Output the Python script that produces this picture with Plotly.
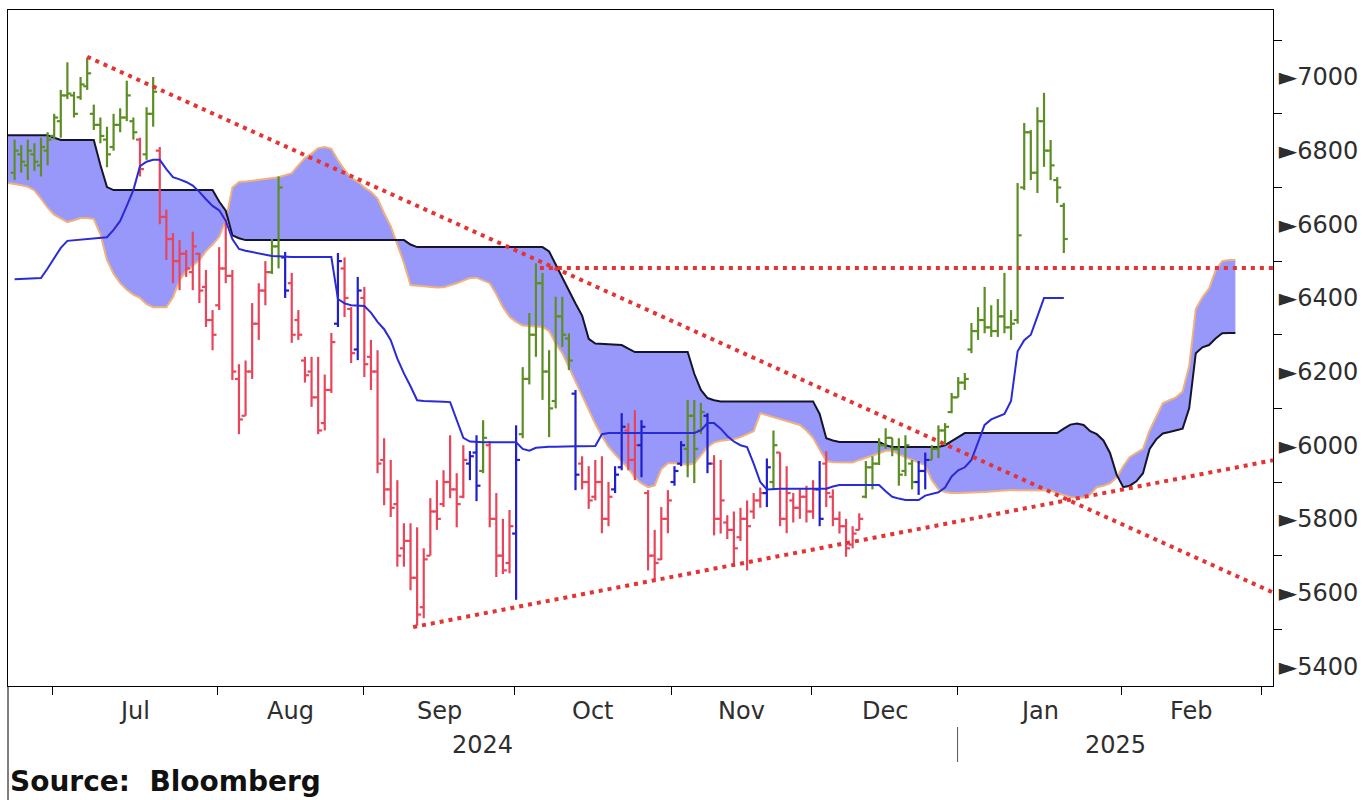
import plotly.graph_objects as go

# ---------------- data ----------------
# trading-day sequence number of each price bar
bar_index = list(range(1, 161))

opens = [6740, 6790, 6760, 6790, 6760, 6800, 6840, 6880, 6950, 6950,
         6945, 6975, 6900, 6870, 6830, 6810, 6870, 6890, 6880, 6830,
         6790, 6900, 6800, 6620, 6560, 6500, 6520, 6470, 6520, 6430,
         6340, 6380, 6480, 6460, 6180, 6080, 6200, 6330, 6420, 6470,
         6540, 6510, 6440, 6340, 6230, 6200, 6130, 6060, 6150, 6330,
         6480, 6370, 6260, 6400, 6240, 6200, 5960, 5880, 5840, 5720,
         5740, 5640, 5560, 5700, 5820, 5840, 5900, 5880, 5860, 5950,
         5980, 5930, 6000, 5800, 5700, 5680, 5760, 6030, 6180, 6300,
         6440, 6200, 6120, 6350, 6290, 6140, 5950, 5900, 5860, 5900,
         5800, 5880, 5940, 6040, 5960, 6000, 5870, 5700, 5690, 5800,
         5900, 5950, 5990, 6080, 6040, 6080, 5950, 5800, 5790, 5770,
         5750, 5800, 5820, 5850, 5870, 5900, 5980, 5800, 5850, 5830,
         5860, 5820, 5880, 5950, 5860, 5800, 5780, 5730, 5770, 5860,
         5940, 5950, 6000, 6020, 5990, 5930, 5950, 5900, 5930, 5960,
         5990, 6040, 6090, 6130, 6170, 6260, 6310, 6340, 6320, 6310,
         6350, 6320, 6340, 6700, 6850, 6740, 6880, 6800, 6720, 6650]

highs = [6830, 6815, 6830, 6820, 6835, 6850, 6900, 6965, 7040, 6960,
         7000, 7052, 6925, 6890, 6865, 6900, 6915, 6990, 6890, 6835,
         6918, 7000, 6810, 6640, 6576, 6557, 6530, 6580, 6522, 6476,
         6367, 6538, 6612, 6476, 6220, 6230, 6386, 6440, 6500, 6560,
         6730, 6525, 6468, 6367, 6240, 6240, 6240, 6192, 6305, 6522,
         6510, 6375, 6457, 6430, 6286, 6258, 6019, 5960, 5905, 5788,
         5788, 5777, 5720, 5856, 5905, 5932, 6027, 5924, 6000, 5984,
         6027, 6068, 6011, 5870, 5800, 5824, 6054, 6212, 6359, 6494,
         6468, 6258, 6403, 6403, 6304, 6150, 5970, 5943, 5960, 5970,
         5900, 5943, 6087, 6060, 6095, 6068, 5878, 5770, 5832, 5878,
         5943, 6011, 6123, 6123, 6115, 6087, 5973, 5960, 5810, 5820,
         5830, 5850, 5870, 5885, 5964, 6040, 5980, 5943, 5870, 5880,
         5890, 5905, 5957, 5984, 5880, 5820, 5800, 5780, 5815, 5957,
         5970, 6019, 6046, 6020, 6019, 6027, 5960, 5957, 5980, 6000,
         6054, 6060, 6142, 6185, 6196, 6332, 6375, 6430, 6380, 6397,
         6468, 6367, 6712, 6875, 6856, 6918, 6957, 6829, 6728, 6658]

lows = [6720, 6740, 6720, 6745, 6730, 6760, 6830, 6835, 6940, 6890,
        6938, 6965, 6856, 6820, 6755, 6800, 6850, 6880, 6830, 6730,
        6775, 6865, 6600, 6503, 6440, 6421, 6457, 6421, 6386, 6321,
        6258, 6367, 6440, 6177, 6030, 6080, 6180, 6286, 6380, 6465,
        6480, 6400, 6278, 6286, 6170, 6104, 6030, 6040, 6142, 6321,
        6348, 6223, 6231, 6185, 6150, 5924, 5837, 5805, 5670, 5670,
        5606, 5510, 5530, 5700, 5770, 5832, 5856, 5777, 5856, 5905,
        5848, 5924, 5777, 5642, 5650, 5652, 5580, 6019, 6165, 6240,
        6123, 6022, 6100, 6267, 6204, 5878, 5880, 5827, 5850, 5761,
        5780, 5870, 5932, 5932, 5905, 5913, 5660, 5633, 5688, 5761,
        5890, 5943, 5913, 5897, 6030, 5924, 5755, 5760, 5745, 5670,
        5740, 5660, 5800, 5830, 5832, 5878, 5780, 5761, 5790, 5800,
        5790, 5800, 5780, 5832, 5780, 5760, 5697, 5720, 5770, 5856,
        5880, 5946, 5990, 5970, 5890, 5916, 5880, 5865, 5880, 5960,
        5965, 6000, 6087, 6130, 6150, 6250, 6286, 6304, 6294, 6294,
        6304, 6286, 6330, 6693, 6720, 6685, 6756, 6720, 6658, 6522]

closes = [6800, 6770, 6800, 6770, 6810, 6830, 6890, 6950, 6955, 6900,
          6980, 7010, 6870, 6840, 6790, 6870, 6890, 6950, 6850, 6750,
          6900, 6960, 6620, 6560, 6500, 6520, 6480, 6540, 6420, 6340,
          6300, 6480, 6460, 6200, 6070, 6200, 6330, 6420, 6470, 6540,
          6700, 6420, 6300, 6300, 6190, 6130, 6040, 6150, 6280, 6500,
          6400, 6250, 6420, 6220, 6200, 5950, 5880, 5830, 5700, 5740,
          5640, 5540, 5690, 5820, 5800, 5900, 5880, 5840, 5960, 5970,
          5890, 6020, 5800, 5700, 5660, 5780, 5960, 6180, 6300, 6440,
          6200, 6100, 6350, 6300, 6230, 5920, 5900, 5850, 5900, 5800,
          5860, 5920, 6050, 5960, 6000, 6050, 5700, 5680, 5800, 5850,
          5930, 6000, 6080, 5990, 6090, 5950, 5800, 5850, 5770, 5720,
          5800, 5780, 5850, 5870, 5940, 6000, 5800, 5870, 5830, 5860,
          5820, 5880, 5800, 5870, 5800, 5780, 5720, 5760, 5800, 5940,
          5950, 6000, 6020, 5990, 5920, 6000, 5900, 5930, 5960, 5990,
          6040, 6050, 6130, 6170, 6180, 6310, 6340, 6320, 6310, 6350,
          6320, 6330, 6570, 6850, 6740, 6880, 6800, 6760, 6700, 6560]

# bar state: g = above cloud, r = below, b = neutral
bar_state = list(
    "ggggggggggggggggggg" "r" "gg" "rrrrrrrrrrrrrrrrr" "gg" "b" "rrrrrrr" "b"
    "rr" "b" "rrrrrrrrrrrrrrrr" "bb" "g" "rrrr" "b" "gggggggg" "b" "rrrrr"
    "bb" "rr" "b" "rrrr" "bb" "ggg" "b" "rrrrrrrr" "b" "g" "rrrrrr" "b"
    "rrrrrr" "gggggggg" "bb" "ggggggggggggggggggggg"
)

kijun = [6451, 6452, 6452, 6453, 6454, 6480, 6508, 6536, 6555, 6557,
         6558, 6560, 6561, 6563, 6565, 6585, 6609, 6650, 6693, 6758,
         6770, 6775, 6775, 6750, 6728, 6722, 6715, 6705, 6688, 6668,
         6650, 6638, 6610, 6560, 6533, 6528, 6524, 6520, 6516, 6514,
         6513, 6511, 6511, 6511, 6511, 6511, 6511, 6511, 6511, 6397,
         6385, 6380, 6378, 6378, 6360, 6335, 6315, 6285, 6235, 6195,
         6160, 6122, 6120, 6120, 6119, 6118, 6117, 6070, 6020, 6010,
         6008, 6008, 6008, 6008, 6008, 6008, 6008, 5990, 5985, 5993,
         5995, 5996, 5996, 5997, 5997, 5997, 5997, 5997, 5998, 6030,
         6033, 6033, 6033, 6033, 6033, 6033, 6033, 6033, 6033, 6033,
         6033, 6033, 6033, 6033, 6040, 6060, 6060, 6045, 6025, 6010,
         6000, 5995, 5950, 5900, 5880, 5882, 5882, 5882, 5882, 5882,
         5882, 5882, 5882, 5882, 5888, 5892, 5892, 5892, 5892, 5892,
         5892, 5892, 5875, 5860, 5855, 5851, 5851, 5851, 5863, 5868,
         5872, 5885, 5915, 5932, 5940, 5960, 6010, 6055, 6070, 6078,
         6085, 6120, 6255, 6285, 6300, 6350, 6400, 6400, 6400, 6400]

# cloud spans, projected 26 sessions beyond the last bar
cloud_index = list(range(0, 187))
span_black = [6842, 6842, 6842, 6842, 6842, 6842, 6842, 6835, 6829, 6829,
              6829, 6829, 6829, 6829, 6761, 6701, 6693, 6693, 6693, 6693,
              6693, 6693, 6693, 6693, 6693, 6693, 6693, 6693, 6693, 6693,
              6693, 6693, 6662, 6637, 6570, 6562, 6557, 6557, 6557, 6557,
              6557, 6557, 6557, 6557, 6557, 6557, 6557, 6557, 6557, 6557,
              6557, 6557, 6557, 6557, 6557, 6557, 6557, 6557, 6557, 6557,
              6557, 6545, 6538, 6538, 6538, 6538, 6538, 6538, 6538, 6538,
              6538, 6538, 6538, 6538, 6538, 6538, 6538, 6538, 6538, 6538,
              6538, 6538, 6526, 6490, 6455, 6418, 6385, 6352, 6289, 6276,
              6275, 6274, 6273, 6272, 6262, 6253, 6253, 6253, 6253, 6253,
              6253, 6253, 6253, 6253, 6194, 6150, 6128, 6122, 6119, 6119,
              6119, 6119, 6119, 6119, 6119, 6119, 6119, 6119, 6119, 6119,
              6119, 6119, 6119, 6085, 6019, 6013, 6009, 6009, 6009, 6009,
              6009, 6009, 6009, 6000, 5995, 5995, 5995, 5995, 5995, 5995,
              5995, 5995, 6000, 6010, 6022, 6033, 6033, 6033, 6033, 6033,
              6033, 6033, 6033, 6033, 6033, 6033, 6033, 6033, 6033, 6033,
              6045, 6056, 6059, 6055, 6038, 6030, 6013, 5979, 5920, 5886,
              5890, 5902, 5924, 5990, 6016, 6032, 6036, 6040, 6045, 6100,
              6250, 6266, 6272, 6290, 6304, 6305, 6305]

span_orange = [6712, 6710, 6706, 6702, 6692, 6670, 6645, 6626, 6615, 6606,
               6611, 6617, 6617, 6614, 6573, 6503, 6466, 6440, 6422, 6409,
               6400, 6383, 6375, 6375, 6375, 6402, 6448, 6473, 6487, 6502,
               6527, 6545, 6566, 6610, 6700, 6715, 6716, 6718, 6720, 6723,
               6726, 6728, 6733, 6739, 6760, 6780, 6792, 6807, 6810, 6805,
               6774, 6748, 6726, 6716, 6700, 6688, 6670, 6630, 6595, 6544,
               6495, 6435, 6433, 6431, 6429, 6428, 6429, 6434, 6440, 6447,
               6454, 6455, 6447, 6440, 6410, 6375, 6349, 6335, 6325, 6323,
               6322, 6321, 6310, 6276, 6250, 6212, 6175, 6133, 6095, 6058,
               6025, 5996, 5975, 5957, 5937, 5912, 5896, 5886, 5890, 5935,
               5951, 5951, 5949, 5947, 5950, 5972, 5995, 6007, 6012, 6014,
               6016, 6022, 6030, 6038, 6087, 6082, 6077, 6072, 6066, 6062,
               6055, 6040, 6020, 5988, 5957, 5954, 5953, 5952, 5953, 5960,
               5966, 5970, 5978, 5985, 5985, 5975, 5968, 5960, 5953, 5945,
               5905, 5880, 5873, 5870, 5870, 5870, 5871, 5872, 5873, 5875,
               5876, 5877, 5878, 5878, 5878, 5878, 5878, 5878, 5877, 5870,
               5864, 5859, 5857, 5858, 5866, 5886, 5890, 5896, 5912, 5943,
               5968, 5980, 5990, 6040, 6077, 6114, 6122, 6130, 6146, 6215,
               6370, 6402, 6425, 6475, 6500, 6503, 6503]

# hand-drawn trend lines (session number, level)
trend_down_x, trend_down_y = [12, 191.7], [7055, 5600]
trend_up_x, trend_up_y = [61.4, 191.7], [5506, 5959]
resist_x, resist_y = [80.6, 191.7], [6481, 6481]

# axes
month_starts = [6.7, 31.7, 53.9, 76.8, 100.6, 121.8, 143.9, 168.8, 190.0]
month_names = ["Jul", "Aug", "Sep", "Oct", "Nov", "Dec", "Jan", "Feb"]
year_names = ["2024", "2025"]
y_ticks = [5400, 5600, 5800, 6000, 6200, 6400, 6600, 6800, 7000]
y_minor = [5500, 5700, 5900, 6100, 6300, 6500, 6700, 6900, 7100]
X_MAX = 191.7
Y_RANGE = [5346, 7182]

# ---------------- styling ----------------
CLOUD = "#9898fa"
BLACK_LINE = "#14142a"
ORANGE_LINE = "#f0b27c"
KIJUN = "#2a2ad6"
STATE_COLORS = {"g": "#5c8e24", "r": "#e8455a", "b": "#1f1fcc"}
DOT_RED = "#e53232"
FONT = "DejaVu Sans"
TXT = "#2e2e2e"

fig = go.Figure()

# cloud fill
fig.add_trace(go.Scatter(x=cloud_index, y=span_black, mode="lines",
                         line=dict(width=0, color=BLACK_LINE), hoverinfo="skip"))
fig.add_trace(go.Scatter(x=cloud_index, y=span_orange, mode="lines",
                         line=dict(width=0, color=ORANGE_LINE), fill="tonexty",
                         fillcolor=CLOUD, hoverinfo="skip"))
# cloud edges
fig.add_trace(go.Scatter(x=cloud_index, y=span_orange, mode="lines",
                         line=dict(width=2, color=ORANGE_LINE), hoverinfo="skip"))
fig.add_trace(go.Scatter(x=cloud_index, y=span_black, mode="lines",
                         line=dict(width=2, color=BLACK_LINE), hoverinfo="skip"))

# OHLC bars, drawn as segments so that they sit above the cloud
TW = 0.6
for code, col in STATE_COLORS.items():
    xs, ys = [], []
    for k, s in enumerate(bar_state):
        if s != code:
            continue
        x = bar_index[k]
        xs += [x, x, None, x - TW, x, None, x, x + TW, None]
        ys += [lows[k], highs[k], None, opens[k], opens[k], None,
               closes[k], closes[k], None]
    fig.add_trace(go.Scatter(x=xs, y=ys, mode="lines",
                             line=dict(width=2.2, color=col), hoverinfo="skip"))

# kijun line
fig.add_trace(go.Scatter(x=bar_index, y=kijun, mode="lines",
                         line=dict(width=2, color=KIJUN, shape="linear"),
                         hoverinfo="skip"))

# trend lines
for tx, ty in [(trend_down_x, trend_down_y), (trend_up_x, trend_up_y),
               (resist_x, resist_y)]:
    fig.add_trace(go.Scatter(x=tx, y=ty, mode="lines",
                             line=dict(width=4, color=DOT_RED, dash="4px,5px"),
                             hoverinfo="skip"))

PLOT_H = 676.0

annotations = []
for k, name in enumerate(month_names):
    annotations.append(dict(
        x=(month_starts[k] + month_starts[k + 1]) / 2, xref="x",
        y=-25 / PLOT_H, yref="paper", text=name, showarrow=False,
        xanchor="center", yanchor="middle",
        font=dict(family=FONT, size=24, color=TXT)))
year_centres = [(0 + month_starts[6]) / 2, (month_starts[6] + X_MAX) / 2]
for xc, name in zip(year_centres, year_names):
    annotations.append(dict(
        x=xc, xref="x", y=-59 / PLOT_H, yref="paper", text=name,
        showarrow=False, xanchor="center", yanchor="middle",
        font=dict(family=FONT, size=24, color=TXT)))
annotations.append(dict(
    x=0, xref="paper", y=-95 / PLOT_H, yref="paper",
    text="<b>Source:  Bloomberg</b>", showarrow=False,
    xanchor="left", yanchor="middle",
    font=dict(family=FONT, size=28, color="#111111")))

shapes = [
    dict(type="line", xref="x", yref="paper", x0=month_starts[6],
         x1=month_starts[6], y0=-41 / PLOT_H, y1=-76 / PLOT_H,
         line=dict(color="#555555", width=1)),
    dict(type="line", xref="paper", yref="paper", x0=0, x1=0,
         y0=0, y1=-114 / PLOT_H, line=dict(color="black", width=1)),
]

fig.update_layout(
    width=1367, height=800,
    margin=dict(l=8, r=94, t=10, b=114),
    paper_bgcolor="white", plot_bgcolor="white",
    showlegend=False,
    font=dict(family=FONT, color=TXT),
    annotations=annotations, shapes=shapes,
)
fig.update_xaxes(
    range=[0, X_MAX], showgrid=False, zeroline=False,
    showline=True, linecolor="black", linewidth=1, mirror=True,
    tickmode="array", tickvals=month_starts, ticks="outside",
    ticklen=8, tickcolor="black", showticklabels=False,
)
fig.update_yaxes(
    side="right", range=Y_RANGE, showgrid=False, zeroline=False,
    showline=True, linecolor="black", linewidth=1, mirror=True,
    tickmode="array", tickvals=y_ticks,
    ticktext=["\u25ba" + str(v) for v in y_ticks],
    ticks="outside", ticklen=0,
    tickfont=dict(family=FONT, size=24, color=TXT),
    minor=dict(tickmode="array", tickvals=y_minor, ticks="outside",
               ticklen=8, tickcolor="black"),
)

fig.write_html("out.html", include_plotlyjs=True,
               config={"displayModeBar": False},
               post_script="document.body.style.margin='0px';")
